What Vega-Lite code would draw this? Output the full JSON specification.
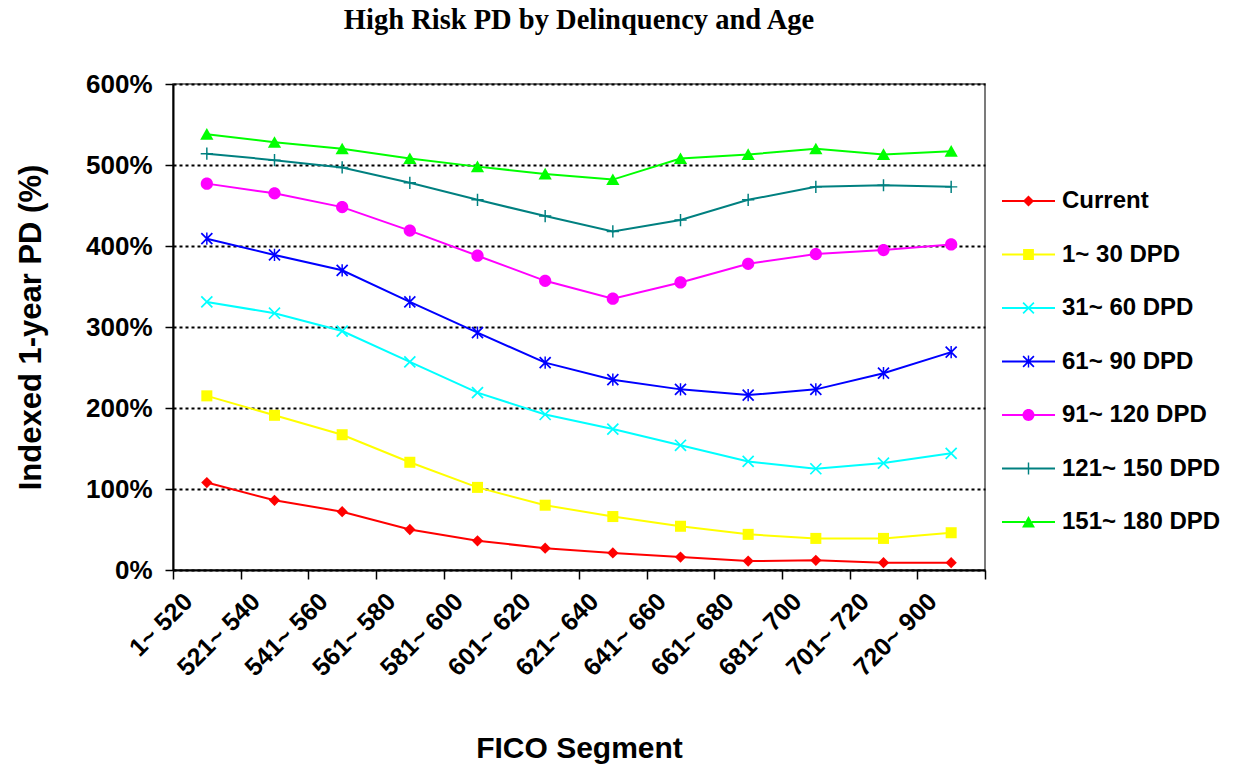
{
  "$schema": "https://vega.github.io/schema/vega-lite/v6.json",
  "autosize": {"type": "none"},
  "padding": {"left": 173, "top": 84, "right": 265, "bottom": 199},
  "width": 812,
  "height": 486,
  "background": "white",
  "title": {
    "text": "High Risk PD by Delinquency and Age",
    "font": "Liberation Serif",
    "fontSize": 28.5,
    "fontWeight": "bold",
    "color": "black",
    "frame": "group",
    "anchor": "middle",
    "baseline": "alphabetic",
    "offset": 14
  },
  "config": {
    "view": {"stroke": "#505050", "strokeWidth": 1.5},
    "axis": {
      "labelFont": "Liberation Sans",
      "labelFontWeight": "bold",
      "labelColor": "black",
      "titleFont": "Liberation Sans",
      "titleFontWeight": "bold",
      "titleColor": "black",
      "domainColor": "black",
      "domainWidth": 2,
      "tickColor": "black",
      "tickWidth": 1.5
    }
  },
  "data": {
    "values": [
      {"seg": "1~ 520", "Current": 108, "1~ 30 DPD": 215, "31~ 60 DPD": 331, "61~ 90 DPD": 409, "91~ 120 DPD": 477, "121~ 150 DPD": 514, "151~ 180 DPD": 538},
      {"seg": "521~ 540", "Current": 86, "1~ 30 DPD": 191, "31~ 60 DPD": 317, "61~ 90 DPD": 389, "91~ 120 DPD": 465, "121~ 150 DPD": 506, "151~ 180 DPD": 528},
      {"seg": "541~ 560", "Current": 72, "1~ 30 DPD": 167, "31~ 60 DPD": 295, "61~ 90 DPD": 370, "91~ 120 DPD": 448, "121~ 150 DPD": 497, "151~ 180 DPD": 520},
      {"seg": "561~ 580", "Current": 50, "1~ 30 DPD": 133, "31~ 60 DPD": 257, "61~ 90 DPD": 331, "91~ 120 DPD": 419, "121~ 150 DPD": 478, "151~ 180 DPD": 508},
      {"seg": "581~ 600", "Current": 36, "1~ 30 DPD": 102, "31~ 60 DPD": 219, "61~ 90 DPD": 293, "91~ 120 DPD": 388, "121~ 150 DPD": 457, "151~ 180 DPD": 498},
      {"seg": "601~ 620", "Current": 27, "1~ 30 DPD": 80, "31~ 60 DPD": 192, "61~ 90 DPD": 256, "91~ 120 DPD": 357, "121~ 150 DPD": 437, "151~ 180 DPD": 489},
      {"seg": "621~ 640", "Current": 21, "1~ 30 DPD": 66, "31~ 60 DPD": 174, "61~ 90 DPD": 235, "91~ 120 DPD": 335, "121~ 150 DPD": 418, "151~ 180 DPD": 482},
      {"seg": "641~ 660", "Current": 16, "1~ 30 DPD": 54, "31~ 60 DPD": 154, "61~ 90 DPD": 223, "91~ 120 DPD": 355, "121~ 150 DPD": 432, "151~ 180 DPD": 508},
      {"seg": "661~ 680", "Current": 11, "1~ 30 DPD": 44, "31~ 60 DPD": 134, "61~ 90 DPD": 216, "91~ 120 DPD": 378, "121~ 150 DPD": 457, "151~ 180 DPD": 513},
      {"seg": "681~ 700", "Current": 12, "1~ 30 DPD": 39, "31~ 60 DPD": 125, "61~ 90 DPD": 223, "91~ 120 DPD": 390, "121~ 150 DPD": 473, "151~ 180 DPD": 520},
      {"seg": "701~ 720", "Current": 9, "1~ 30 DPD": 39, "31~ 60 DPD": 132, "61~ 90 DPD": 243, "91~ 120 DPD": 395, "121~ 150 DPD": 475, "151~ 180 DPD": 513},
      {"seg": "720~ 900", "Current": 9, "1~ 30 DPD": 46, "31~ 60 DPD": 144, "61~ 90 DPD": 269, "91~ 120 DPD": 402, "121~ 150 DPD": 473, "151~ 180 DPD": 517}
    ]
  },
  "transform": [
    {"fold": ["Current", "1~ 30 DPD", "31~ 60 DPD", "61~ 90 DPD", "91~ 120 DPD", "121~ 150 DPD", "151~ 180 DPD"], "as": ["series", "v"]}
  ],
  "encoding": {
    "x": {
      "field": "seg",
      "type": "nominal",
      "sort": null,
      "scale": {"type": "band", "paddingInner": 0, "paddingOuter": 0},
      "axis": {
        "title": "FICO Segment",
        "titleFontSize": 30,
        "titleY": 187,
        "titleBaseline": "alphabetic",
        "labelFontSize": 25,
        "labelAngle": -45,
        "labelAlign": "right",
        "labelBaseline": "middle",
        "labelOffset": -19,
        "labelPadding": 18,
        "tickBand": "extent",
        "tickSize": 9,
        "grid": false
      }
    },
    "y": {
      "field": "v",
      "type": "quantitative",
      "scale": {"domain": [0, 600], "nice": false},
      "axis": {
        "title": "Indexed 1-year PD (%)",
        "titleFontSize": 31,
        "titleX": -142,
        "titleBaseline": "middle",
        "values": [0, 100, 200, 300, 400, 500, 600],
        "labelExpr": "datum.value + '%'",
        "labelFontSize": 26,
        "labelPadding": 13,
        "tickSize": 8,
        "grid": true,
        "gridColor": "black",
        "gridWidth": 2,
        "gridDash": [3, 3]
      }
    }
  },
  "layer": [
    {
      "mark": {"type": "line", "strokeWidth": 2},
      "encoding": {
        "stroke": {
          "field": "series",
          "type": "nominal",
          "scale": {
            "domain": ["Current", "1~ 30 DPD", "31~ 60 DPD", "61~ 90 DPD", "91~ 120 DPD", "121~ 150 DPD", "151~ 180 DPD"],
            "range": ["#FF0000", "#FFFF00", "#00FFFF", "#0000FF", "#FF00FF", "#008080", "#00FF00"]
          },
          "legend": null
        }
      }
    },
    {
      "mark": {"type": "point", "filled": true, "size": 150, "strokeWidth": 0, "opacity": 1},
      "encoding": {
        "fill": {
          "field": "series",
          "type": "nominal",
          "scale": {
            "domain": ["Current", "1~ 30 DPD", "31~ 60 DPD", "61~ 90 DPD", "91~ 120 DPD", "121~ 150 DPD", "151~ 180 DPD"],
            "range": ["#FF0000", "#FFFF00", "#00FFFF", "#0000FF", "#FF00FF", "#008080", "#00FF00"]
          },
          "legend": null
        },
        "shape": {
          "field": "series",
          "type": "nominal",
          "scale": {
            "domain": ["Current", "1~ 30 DPD", "31~ 60 DPD", "61~ 90 DPD", "91~ 120 DPD", "121~ 150 DPD", "151~ 180 DPD"],
            "range": [
              "M0,-0.92L0.92,0L0,0.92L-0.92,0Z",
              "M-0.9,-0.9H0.9V0.9H-0.9Z",
              "M-1,-0.8L-0.8,-1L1,0.8L0.8,1Z M-1,0.8L0.8,-1L1,-0.8L-0.8,1Z",
              "M-1,-0.8L-0.8,-1L1,0.8L0.8,1Z M-1,0.8L0.8,-1L1,-0.8L-0.8,1Z M-0.12,-1H0.12V1H-0.12Z",
              "M-1,0A1,1 0 1,1 1,0A1,1 0 1,1 -1,0Z",
              "M-1,-0.12H1V0.12H-1Z M-0.12,-1H0.12V1H-0.12Z",
              "M0,-1L1.08,0.9L-1.08,0.9Z"
            ]
          },
          "legend": null
        }
      }
    },
    {
      "mark": {"type": "point", "filled": true, "size": 144, "strokeWidth": 0, "opacity": 0},
      "encoding": {
        "color": {
          "field": "series",
          "type": "nominal",
          "scale": {
            "domain": ["Current", "1~ 30 DPD", "31~ 60 DPD", "61~ 90 DPD", "91~ 120 DPD", "121~ 150 DPD", "151~ 180 DPD"],
            "range": ["#FF0000", "#FFFF00", "#00FFFF", "#0000FF", "#FF00FF", "#008080", "#00FF00"]
          },
          "legend": {
            "title": null,
            "orient": "none",
            "legendX": 829,
            "legendY": 90.5,
            "padding": 0,
            "symbolSize": 2809,
            "symbolOpacity": 1,
            "symbolStrokeWidth": 0,
            "rowPadding": 14.5,
            "labelFont": "Liberation Sans",
            "labelFontSize": 24,
            "labelFontWeight": "bold",
            "labelColor": "black",
            "labelOffset": 7,
            "labelLimit": 400,
            "encode": {"symbols": {"update": {"opacity": {"value": 1}, "strokeWidth": {"value": 0}}}}
          }
        },
        "shape": {
          "field": "series",
          "type": "nominal",
          "scale": {
            "domain": ["Current", "1~ 30 DPD", "31~ 60 DPD", "61~ 90 DPD", "91~ 120 DPD", "121~ 150 DPD", "151~ 180 DPD"],
            "range": [
              "M-1,-0.038H-0.15V0.038H-1Z M0.15,-0.038H1V0.038H0.15Z M0,-0.208L0.208,0L0,0.208L-0.208,0Z",
              "M-1,-0.038H-0.18V0.038H-1Z M0.18,-0.038H1V0.038H0.18Z M-0.204,-0.204H0.204V0.204H-0.204Z",
              "M-1,-0.038H1V0.038H-1Z M-0.226,-0.181L-0.181,-0.226L0.226,0.181L0.181,0.226Z M-0.226,0.181L0.181,-0.226L0.226,-0.181L-0.181,0.226Z",
              "M-1,-0.038H1V0.038H-1Z M-0.226,-0.181L-0.181,-0.226L0.226,0.181L0.181,0.226Z M-0.226,0.181L0.181,-0.226L0.226,-0.181L-0.181,0.226Z M-0.027,-0.226H0.027V0.226H-0.027Z",
              "M-1,-0.038H-0.2V0.038H-1Z M0.2,-0.038H1V0.038H0.2Z M-0.226,0A0.226,0.226 0 1,1 0.226,0A0.226,0.226 0 1,1 -0.226,0Z",
              "M-1,-0.038H1V0.038H-1Z M-0.027,-0.226H0.027V0.226H-0.027Z",
              "M-1,-0.038H-0.12V0.038H-1Z M0.12,-0.038H1V0.038H0.12Z M0,-0.226L0.244,0.203L-0.244,0.203Z"
            ]
          },
          "legend": {
            "title": null,
            "orient": "none",
            "legendX": 829,
            "legendY": 90.5,
            "padding": 0,
            "symbolSize": 2809,
            "symbolOpacity": 1,
            "symbolStrokeWidth": 0,
            "rowPadding": 14.5,
            "labelFont": "Liberation Sans",
            "labelFontSize": 24,
            "labelFontWeight": "bold",
            "labelColor": "black",
            "labelOffset": 7,
            "labelLimit": 400,
            "encode": {"symbols": {"update": {"opacity": {"value": 1}, "strokeWidth": {"value": 0}}}}
          }
        }
      }
    }
  ],
  "resolve": {"scale": {"shape": "independent", "color": "independent"}}
}
